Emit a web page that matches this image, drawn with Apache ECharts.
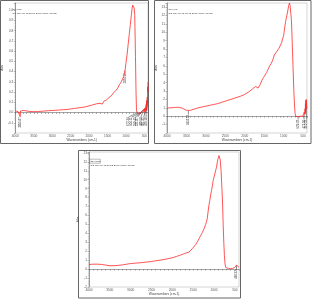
<!DOCTYPE html>
<html><head><meta charset="utf-8">
<script src="https://cdn.jsdelivr.net/npm/echarts@6/dist/echarts.min.js"></script>
<style>html,body{margin:0;padding:0;background:#fff}#c{width:312px;height:299px}</style>
</head><body><div id="c"></div>
<script>
// ---- Panel 1 spectrum ----
const p1W = [4000,3960,3930,3900,3880,3870,3862,3840,3810,3790,3760,3730,3700,3650,3600,3500,3400,3300,3200,3100,3000,2900,2800,2700,2600,2500,2400,2300,2200,2100,2000,1900,1800,1750,1700,1660,1640,1620,1600,1560,1520,1500,1460,1420,1380,1340,1300,1260,1220,1180,1140,1100,1060,1040,1020,1000,970,940,910,880,850,830,815,800,790,775,760,740,725,712,700,680,660,640,620,600,580,560,540,520,500,490,480,470,460,450,445,440,435,430,425,420,415,410,405,400];
const p1A = [0.015,0.02,0.01,0.018,0.012,-0.04,0.015,0.02,0.008,0.02,0.012,0.018,0.01,0.012,0.01,0.008,0.01,0.012,0.015,0.018,0.02,0.022,0.025,0.028,0.03,0.035,0.04,0.045,0.05,0.055,0.065,0.075,0.085,0.09,0.09,0.085,0.082,0.09,0.11,0.12,0.125,0.14,0.145,0.16,0.17,0.19,0.2,0.22,0.24,0.27,0.29,0.32,0.35,0.38,0.42,0.48,0.56,0.66,0.76,0.86,0.96,1.02,1.05,1.06,1.05,1.02,0.95,0.55,0.2,0.02,0.0,-0.005,0.0,-0.01,0.005,-0.005,0.0,0.01,0.005,0.03,0.01,0.04,0.0,0.05,0.02,0.08,0.03,0.1,0.02,0.12,0.05,0.15,0.08,0.25,0.2,0.3];
// ---- Panel 2 spectrum ----
const p2W = [4000,3900,3800,3700,3650,3600,3550,3500,3450,3400,3300,3200,3100,3000,2900,2800,2700,2600,2500,2400,2300,2200,2100,2000,1950,1900,1850,1800,1760,1720,1690,1660,1640,1620,1600,1560,1520,1480,1440,1400,1360,1320,1280,1240,1200,1180,1150,1120,1100,1050,1030,1000,990,950,905,870,850,835,815,800,780,760,740,720,705,690,670,650,630,610,590,570,550,530,510,495,480,470,460,450,445,440,435,430,425,420,410,400];
const p2A = [0.98,1.0,1.05,1.07,1.05,0.95,0.8,0.7,0.65,0.7,0.85,1.0,1.1,1.2,1.3,1.4,1.5,1.65,1.8,1.95,2.1,2.25,2.4,2.6,2.75,2.9,3.05,3.25,3.45,3.55,3.5,3.35,3.25,3.4,3.8,4.3,4.6,4.8,5.2,5.6,6.0,6.3,6.7,7.3,7.5,7.7,7.9,8.1,8.2,8.8,9.2,9.6,10.0,11.3,12.3,13.2,13.5,13.2,12.2,11.4,8.8,6.0,3.2,1.2,0.3,0.0,-0.05,0.0,-0.05,0.02,-0.04,0.0,-0.02,0.05,0.0,0.2,0.1,0.5,0.2,0.9,0.3,1.5,0.5,1.9,0.8,2.0,1.2,1.0];
// ---- Panel 3 spectrum ----
const p3W = [4000,3900,3800,3700,3600,3500,3400,3300,3200,3100,3000,2900,2800,2700,2600,2500,2400,2300,2200,2100,2000,1900,1800,1700,1650,1600,1560,1520,1480,1440,1400,1360,1320,1280,1240,1200,1180,1160,1140,1120,1100,1080,1060,1040,1020,1000,980,960,940,920,900,880,865,850,830,810,795,780,765,750,735,720,700,650,600,550,500,480,460,440,420,400];
const p3A = [0.52,0.55,0.56,0.52,0.45,0.38,0.38,0.42,0.47,0.55,0.62,0.66,0.7,0.75,0.8,0.86,0.93,1.0,1.08,1.17,1.27,1.42,1.58,1.75,1.83,1.9,2.1,2.3,2.5,2.75,3.05,3.4,3.75,4.1,4.5,5.0,5.3,5.7,6.5,7.2,7.7,8.3,8.8,9.3,9.9,10.3,10.4,10.5,11.4,12.0,12.4,12.7,12.6,12.2,11.0,9.0,7.5,5.0,3.0,1.5,0.6,0.2,0.08,0.05,0.06,0.08,0.2,0.35,0.45,0.3,0.25,0.2];

// ---- Peak annotations: [peak wavenumber, peak value, label wavenumber, label value, text] ----
const a1W  = [3870, 1024, 672, 604, 560, 520, 490, 460, 430];
const a1V  = [-0.04, 0.41, 0.0, 0.0, 0.01, 0.03, 0.04, 0.02, 0.12];
const a1LW = [3870, 1024, 929, 842, 745, 684, 597, 518, 455];
const a1LV = [-0.045, 0.385, -0.045, -0.045, -0.045, -0.045, -0.045, -0.045, -0.045];
const a1T  = ['3855.87','1024.13','672.34','604.11','559.43','521.87','489.60','461.42','429.18'];
const a2W  = [3450, 629, 475, 410];
const a2V  = [0.65, -0.02, 0.2, 1.2];
const a2LW = [3450, 629, 475, 410];
const a2LV = [0.2, -0.4, -0.4, -0.4];
const a2T  = ['3452.13','629.22','475.50','410.23'];
const a3W  = [460];
const a3V  = [0.45];
const a3LW = [460];
const a3LV = [-0.1];
const a3T  = ['460.32'];

// ---- Texts ----
const titles1 = ['Sb-0.5C', 'Sat Nov 30 11:35:10 2013 (GMT+05:30)'];
const titles2 = ['Sb 1.0C', 'Sat Nov 30 11:42:48 2013 (GMT+05:30)'];
const titles3 = ['ZD+SMC', 'Sat Nov 30 11:50:52 2013 (GMT+05:30)'];
const xName = 'Wavenumbers (cm-1)';
const yName = 'Abs';

const zip = (w, a) => w.map((x, i) => [x, a[i]]);
const annData = (w, v, lw, lv) => w.map((x, i) => [x, v[i], lw[i], lv[i]]);

function annRender(texts) {
  return function (params, api) {
    const p = api.coord([api.value(0), api.value(1)]);
    const q = api.coord([api.value(2), api.value(3)]);
    return { type: 'group', children: [
      { type: 'polyline', shape: { points: [p, q] }, style: { stroke: '#222', lineWidth: 0.5, fill: null } },
      { type: 'text', x: q[0], y: q[1] + 0.3, rotation: Math.PI / 2,
        style: { text: texts[params.dataIndex], fontSize: 2.8, fill: '#333', align: 'right', verticalAlign: 'middle', fontFamily: 'Liberation Sans' } }
    ] };
  };
}

const grids = [
  { left: 11, right: 164, top: 3, bottom: 166 },
  { left: 167, right: 5, top: 3, bottom: 166 },
  { left: 89, right: 73, top: 152, bottom: 12 }
];
const yRanges = [
  { min: -0.2, max: 1.07, interval: 0.1, dec: 1 },
  { min: -2, max: 13.5, interval: 1, dec: 0 },
  { min: -2, max: 13.1, interval: 1, dec: 0 }
];

const lbl = { fontSize: 3.2, color: '#555', fontFamily: 'Liberation Sans' };
const xAxes = grids.map((g, i) => ({
  type: 'value', gridIndex: i, inverse: true, min: 400, max: 4000, interval: 100,
  name: xName, nameLocation: 'middle', nameGap: 6,
  nameTextStyle: { fontSize: 3.2, color: '#444', fontFamily: 'Liberation Sans' },
  axisLine: { lineStyle: { color: '#666', width: 0.6 } },
  axisTick: { length: 1.5, lineStyle: { color: '#666', width: 0.5 } },
  splitLine: { show: false },
  axisLabel: Object.assign({ margin: 2, showMinLabel: true, showMaxLabel: true,
    formatter: v => (Math.round(v) % 500 === 0 ? String(Math.round(v)) : '') }, lbl)
}));
const yAxes = yRanges.map((r, i) => ({
  type: 'value', gridIndex: i, min: r.min, max: r.max, interval: r.interval,
  name: yName, nameLocation: 'middle', nameGap: 7.5,
  nameTextStyle: { fontSize: 3.2, color: '#444', fontFamily: 'Liberation Sans' },
  axisLine: { show: true, lineStyle: { color: '#666', width: 0.6 } },
  axisTick: { show: true, length: 1.5, lineStyle: { color: '#666', width: 0.5 } },
  minorTick: { show: true, splitNumber: 4, length: 1, lineStyle: { color: '#888', width: 0.4 } },
  splitLine: { show: false },
  axisLabel: Object.assign({ margin: 2, showMinLabel: i === 2, showMaxLabel: false,
    formatter: v => v.toFixed(r.dec) }, lbl)
}));

const lineStyle = { color: '#ff2a2a', width: 0.8 };
const series = [
  { type: 'line', xAxisIndex: 0, yAxisIndex: 0, data: zip(p1W, p1A), symbol: 'none', lineStyle, clip: true },
  { type: 'line', xAxisIndex: 1, yAxisIndex: 1, data: zip(p2W, p2A), symbol: 'none', lineStyle, clip: true },
  { type: 'line', xAxisIndex: 2, yAxisIndex: 2, data: zip(p3W, p3A), symbol: 'none', lineStyle, clip: true },
  { type: 'custom', xAxisIndex: 0, yAxisIndex: 0, data: annData(a1W, a1V, a1LW, a1LV), renderItem: annRender(a1T) },
  { type: 'custom', xAxisIndex: 1, yAxisIndex: 1, data: annData(a2W, a2V, a2LW, a2LV), renderItem: annRender(a2T) },
  { type: 'custom', xAxisIndex: 2, yAxisIndex: 2, data: annData(a3W, a3V, a3LW, a3LV), renderItem: annRender(a3T) }
];

const tStyle = { fontSize: 2.5, fill: '#333', fontFamily: 'Liberation Sans' };
const frame = (x, y, w, h) => ({ type: 'rect', shape: { x, y, width: w, height: h }, style: { fill: null, stroke: '#666', lineWidth: 1 }, silent: true });
const titleBlock = (x, y, lines, boxed) => {
  const arr = [
    { type: 'text', x, y, style: Object.assign({ text: lines[0] }, tStyle) },
    { type: 'text', x, y: y + 3.7, style: Object.assign({ text: lines[1] }, tStyle) }
  ];
  if (boxed) arr.push({ type: 'rect', shape: { x: x - 0.8, y: y - 0.8, width: 10.5, height: 4 }, style: { fill: null, stroke: '#555', lineWidth: 0.4 } });
  return arr;
};

const chart = echarts.init(document.getElementById('c'), null, { renderer: 'canvas' });
chart.setOption({
  animation: false,
  grid: grids.map(g => Object.assign({ show: true, borderColor: '#aaa', borderWidth: 0.5, containLabel: false }, g)),
  xAxis: xAxes, yAxis: yAxes, series,
  graphic: [
    frame(0.5, 0.5, 148, 143),
    frame(154.5, 0.5, 156.5, 143),
    frame(78.5, 150.5, 162, 147.5),
    ...titleBlock(12.5, 8, titles1, false),
    ...titleBlock(168.5, 8, titles2, false),
    ...titleBlock(90.5, 160, titles3, true)
  ]
});
</script></body></html>
